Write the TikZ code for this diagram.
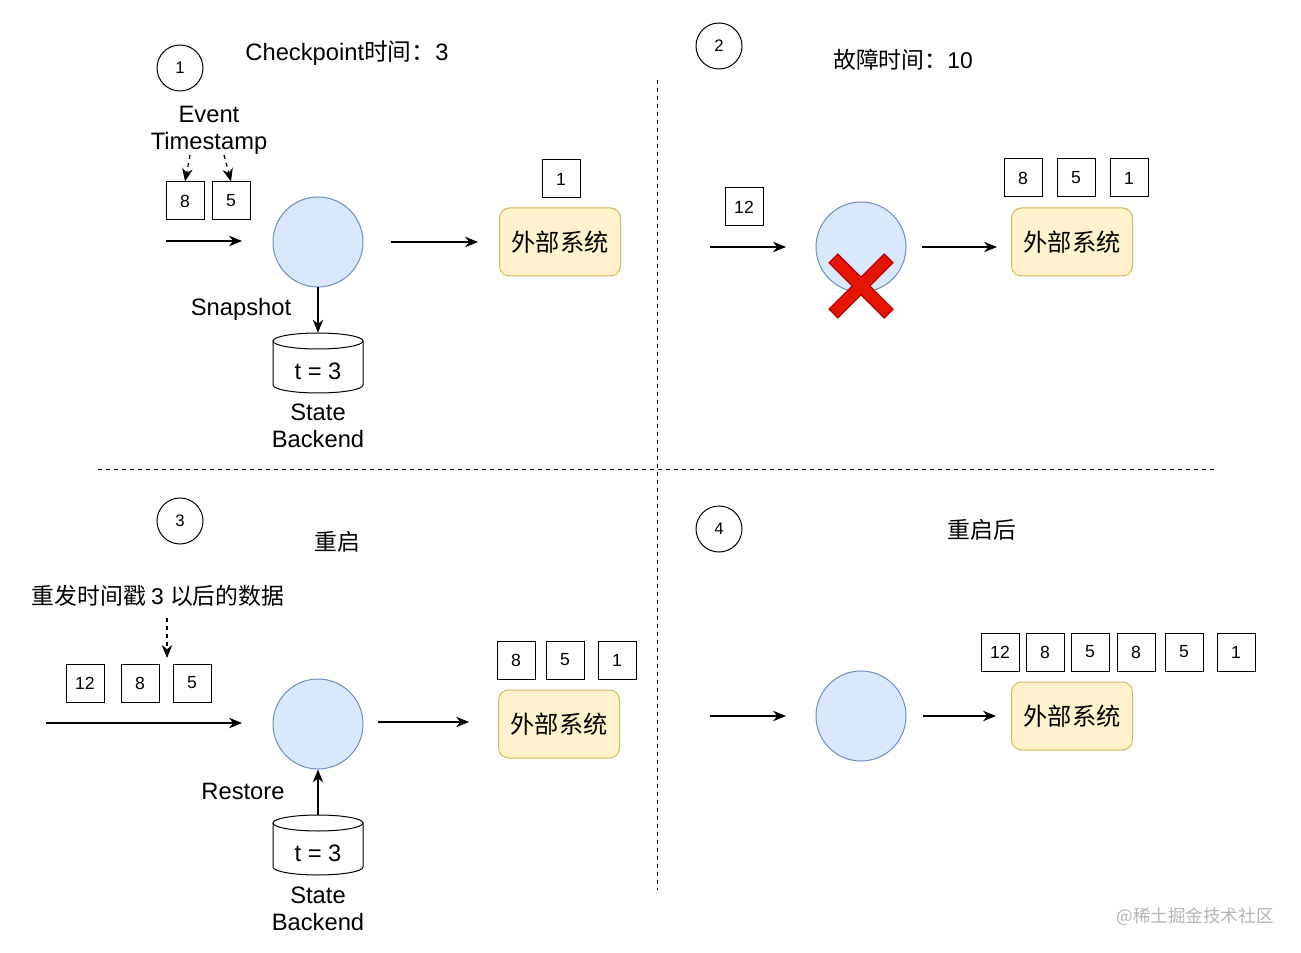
\documentclass[tikz,border=0pt]{standalone}
\usepackage{fontspec}
\setmainfont{Liberation Sans}
\newfontfamily\cjk{Noto Sans CJK SC}
\usetikzlibrary{arrows.meta}

\definecolor{opfill}{HTML}{DAE8FC}
\definecolor{opline}{HTML}{6C8EBF}
\definecolor{extfill}{HTML}{FFF2CC}
\definecolor{extline}{HTML}{D6B656}
\definecolor{xred}{HTML}{E51400}
\definecolor{xdark}{HTML}{B20000}
\definecolor{mark}{HTML}{B4B4B4}

\tikzset{
	op/.style = {circle, draw = opline, fill = opfill, minimum size = 18mm, line width = 0.2mm},
	ext/.style = {rectangle, rounded corners = 2mm, draw = extline, fill = extfill, minimum width = 24.2mm, minimum height = 13.6mm, line width = 0.2mm, font = \cjk\fontsize{13.8}{16}\selectfont},
	rec/.style = {rectangle, draw, minimum size = 7.6mm, inner sep = 0pt, line width = 0.2mm, font = \fontsize{10}{12}\selectfont},
	num/.style = {circle, draw, minimum size = 9.2mm, inner sep = 0pt, line width = 0.2mm, font = \fontsize{9.5}{11}\selectfont},
	lbl/.style = {inner sep = 0pt, align = center, font = \fontsize{13.5}{15.5}\selectfont},
	cjklbl/.style = {lbl, font = \cjk\fontsize{13}{15.5}\selectfont},
	flow/.style = {-{Stealth[length = 2.6mm, width = 2.1mm]}, line width = 0.25mm},
	hint/.style = {flow, dash pattern = on 0.8mm off 0.8mm},
	sep/.style = {line width = 0.2mm, dash pattern = on 0.8mm off 0.8mm},
	cylbox/.style = {rectangle, minimum width = 18mm, minimum height = 12mm, inner sep = 0pt},
}

\begin{document}
\begin{tikzpicture}[x = 0.2mm, y = -0.2mm]
	\useasboundingbox (0, 0) rectangle (1301, 953);

	% Trennlinien
	\draw [sep] (657, 80) -- (657, 890);
	\draw [sep] (98, 470) -- (1217, 470);

	% ---------- 1: Checkpoint ----------
	\node [num] (numA) at (180, 68) {1};
	\node [lbl] (titleA) at (347, 53) {Checkpoint{\cjk 时间：}3};
	\node [lbl] (evA) at (209, 130) {Event\\Timestamp};
	\foreach \v/\x [count = \i] in {8/185, 5/231} {
		\node [rec] (inA\i) at (\x, 201) {\v};
	}
	\coordinate (tsL) at (190, 155);
	\coordinate (tsR) at (224, 155);
	\draw [hint] (tsL) -- (inA1.north);
	\draw [hint] (tsR) -- (inA2.north);

	\coordinate (srcA) at (166, 241);
	\coordinate (dstA) at (242, 241);
	\draw [flow] (srcA) -- (dstA);
	\node [op] (opA) at (318, 242) {};
	\node [ext] (extA) at (560, 242) {外部系统};
	\node [rec] (outA1) at (561, 179) {1};
	\draw [flow, shorten <= 5.4mm, shorten >= 4.2mm] (opA) -- (extA);

	% State Backend
	\node [cylbox] (cylA) at (318, 363) {};
	\begin{scope}[line width = 0.2mm]
		\draw (273, 341) -- (273, 385) arc [start angle = 180, end angle = 360, x radius = 9mm, y radius = 1.6mm] -- (363, 341);
		\draw (318, 341) ellipse [x radius = 9mm, y radius = 1.6mm];
	\end{scope}
	\node [lbl] at (318, 371) {t = 3};
	\node [lbl] (sbA) at (318, 426) {State\\Backend};
	\draw [flow] (opA) -- (cylA);
	\node [lbl] (snap) at (241, 309) {Snapshot};

	% ---------- 2: Fehler ----------
	\node [num] (numB) at (719, 46) {2};
	\node [cjklbl] (titleB) at (903, 60) {故障时间：\fontspec{Liberation Sans}10};
	\node [rec] (inB1) at (744, 207) {12};
	\coordinate (srcB) at (710, 247);
	\coordinate (dstB) at (786, 247);
	\draw [flow] (srcB) -- (dstB);
	\node [op] (opB) at (861, 247) {};
	\node [ext] (extB) at (1072, 242) {外部系统};
	\foreach \v/\x [count = \i] in {8/1023, 5/1076, 1/1129} {
		\node [rec] (outB\i) at (\x, 178) {\v};
	}
	\coordinate (srcB2) at (922, 247);
	\coordinate (dstB2) at (997, 247);
	\draw [flow] (srcB2) -- (dstB2);
	% rotes Kreuz
	\begin{scope}[line cap = butt]
		\draw [xdark, line width = 2.7mm] (833, 258) -- (889, 314);
		\draw [xdark, line width = 2.7mm] (889, 258) -- (833, 314);
		\draw [xred, line width = 2.2mm] (834, 259) -- (888, 313);
		\draw [xred, line width = 2.2mm] (888, 259) -- (834, 313);
	\end{scope}

	% ---------- 3: Neustart ----------
	\node [num] (numC) at (180, 521) {3};
	\node [cjklbl] (titleC) at (337, 542) {重启};
	\node [cjklbl] (replay) at (158, 596) {重发时间戳 \fontspec{Liberation Sans}3 \cjk 以后的数据};
	\foreach \v/\x [count = \i] in {12/85, 8/140, 5/192} {
		\node [rec] (inC\i) at (\x, 683) {\v};
	}
	\coordinate (rpC) at (167, 618);
	\coordinate (rpD) at (167, 658);
	\draw [hint] (rpC) -- (rpD);
	\coordinate (srcC) at (46, 723);
	\coordinate (dstC) at (242, 723);
	\draw [flow] (srcC) -- (dstC);
	\node [op] (opC) at (318, 724) {};
	\node [ext] (extC) at (559, 724) {外部系统};
	\foreach \v/\x [count = \i] in {8/516, 5/565, 1/617} {
		\node [rec] (outC\i) at (\x, 660) {\v};
	}
	\coordinate (srcC2) at (378, 722);
	\coordinate (dstC2) at (469, 722);
	\draw [flow] (srcC2) -- (dstC2);

	% State Backend
	\node [cylbox] (cylC) at (318, 845) {};
	\begin{scope}[line width = 0.2mm]
		\draw (273, 823) -- (273, 867) arc [start angle = 180, end angle = 360, x radius = 9mm, y radius = 1.6mm] -- (363, 823);
		\draw (318, 823) ellipse [x radius = 9mm, y radius = 1.6mm];
	\end{scope}
	\node [lbl] at (318, 853) {t = 3};
	\node [lbl] (sbC) at (318, 909) {State\\Backend};
	\draw [flow] (cylC) -- (opC);
	\node [lbl] (restore) at (243, 791) {Restore};

	% ---------- 4: nach dem Neustart ----------
	\node [num] (numD) at (719, 529) {4};
	\node [cjklbl] (titleD) at (982, 530) {重启后};
	\coordinate (srcD) at (710, 716);
	\coordinate (dstD) at (786, 716);
	\draw [flow] (srcD) -- (dstD);
	\node [op] (opD) at (861, 716) {};
	\node [ext] (extD) at (1072, 716) {外部系统};
	\foreach \v/\x [count = \i] in {12/1000, 8/1045, 5/1090, 8/1136, 5/1184, 1/1236} {
		\node [rec] (outD\i) at (\x, 652) {\v};
	}
	\draw [flow, shorten <= 3.2mm, shorten >= 3mm] (opD) -- (extD);

	% Wasserzeichen
	\node [inner sep = 0pt, text = mark, font = \cjk\fontsize{10}{12}\selectfont] (wm) at (1195, 917) {@稀土掘金技术社区};
\end{tikzpicture}
\end{document}
